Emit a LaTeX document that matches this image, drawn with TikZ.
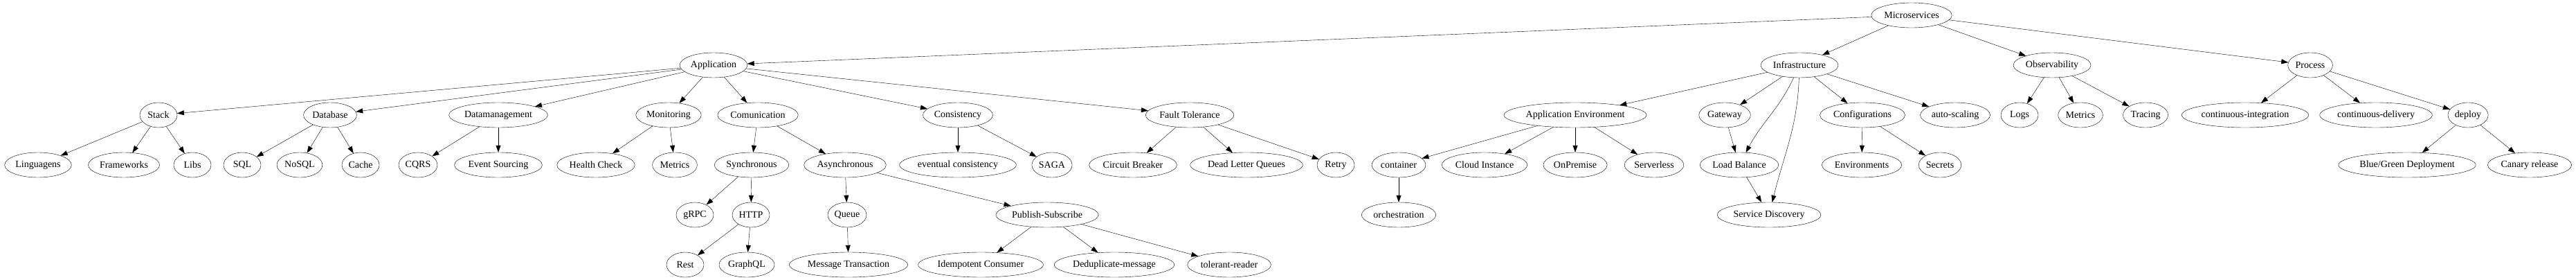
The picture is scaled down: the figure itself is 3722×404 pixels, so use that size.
\documentclass[tikz,border=0pt]{standalone}
\usepackage{fontspec}
\setmainfont{Liberation Serif}
\usetikzlibrary{arrows.meta, shapes.geometric}
\tikzset{
    ->, % every edge is directed
    >={Triangle[length=10pt,width=7pt]}, % filled heads
    line width=1pt,
    topic/.style={draw, ellipse, inner xsep=1.5pt, inner ysep=2pt, minimum height=36pt, minimum width=54pt, font=\fontsize{14}{16}\selectfont}, % every ellipse
}

\begin{document}
\begin{tikzpicture}[x=1pt, y=-1pt]
    \useasboundingbox (0,0) rectangle (3722,404);

    % root and first level
    \node[topic] (ms) at (2762,22) {Microservices};
    \node[topic] (app) at (1031,94) {Application};
    \node[topic] (infra) at (2600,94) {Infrastructure};
    \node[topic] (obs) at (2965,94) {Observability};
    \node[topic] (proc) at (3338,94) {Process};

    % second level
    \node[topic] (stack) at (229,166) {Stack};
    \node[topic] (db) at (477,166) {Database};
    \node[topic] (dm) at (720,166) {Datamanagement};
    \node[topic] (mon) at (966,166) {Monitoring};
    \node[topic] (com) at (1095,166) {Comunication};
    \node[topic] (cons) at (1384,166) {Consistency};
    \node[topic] (ft) at (1719,166) {Fault Tolerance};
    \node[topic] (appenv) at (2276,166) {Application Environment};
    \node[topic] (gw) at (2492,166) {Gateway};
    \node[topic] (conf) at (2691,166) {Configurations};
    \node[topic] (scal) at (2825,166) {auto-scaling};
    \node[topic] (logs) at (2918,166) {Logs};
    \node[topic] (omet) at (3006,166) {Metrics};
    \node[topic] (trac) at (3100,166) {Tracing};
    \node[topic] (ci) at (3244,166) {continuous-integration};
    \node[topic] (cd) at (3433,166) {continuous-delivery};
    \node[topic] (dep) at (3566,166) {deploy};

    % third level
    \node[topic] (ling) at (55,238) {Linguagens};
    \node[topic] (fw) at (179,238) {Frameworks};
    \node[topic] (libs) at (278,238) {Libs};
    \node[topic] (sql) at (350,238) {SQL};
    \node[topic] (nosql) at (433,238) {NoSQL};
    \node[topic] (cache) at (521,238) {Cache};
    \node[topic] (cqrs) at (604,238) {CQRS};
    \node[topic] (es) at (720,238) {Event Sourcing};
    \node[topic] (hc) at (861,238) {Health Check};
    \node[topic] (met) at (975,238) {Metrics};
    \node[topic] (sync) at (1086,238) {Synchronous};
    \node[topic] (async) at (1221,238) {Asynchronous};
    \node[topic] (ev) at (1384,238) {eventual consistency};
    \node[topic] (saga) at (1520,238) {SAGA};
    \node[topic] (cb) at (1637,238) {Circuit Breaker};
    \node[topic] (dlq) at (1801,238) {Dead Letter Queues};
    \node[topic] (retry) at (1930,238) {Retry};
    \node[topic] (cont) at (2021,238) {container};
    \node[topic] (cloud) at (2145,238) {Cloud Instance};
    \node[topic] (onp) at (2276,238) {OnPremise};
    \node[topic] (sless) at (2390,238) {Serverless};
    \node[topic] (lb) at (2513,238) {Load Balance};
    \node[topic] (envs) at (2690,238) {Environments};
    \node[topic] (sec) at (2803,238) {Secrets};
    \node[topic] (bg) at (3478,238) {Blue/Green Deployment};
    \node[topic] (can) at (3655,238) {Canary release};

    % fourth level
    \node[topic] (grpc) at (1004,310) {gRPC};
    \node[topic] (http) at (1085,310) {HTTP};
    \node[topic] (queue) at (1224,310) {Queue};
    \node[topic] (pubsub) at (1513,310) {Publish-Subscribe};
    \node[topic] (orch) at (2021,310) {orchestration};
    \node[topic] (sd) at (2556,310) {Service Discovery};

    % fifth level
    \node[topic] (rest) at (990,382) {Rest};
    \node[topic] (gql) at (1079,382) {GraphQL};
    \node[topic] (mt) at (1226,382) {Message Transaction};
    \node[topic] (ic) at (1417,382) {Idempotent Consumer};
    \node[topic] (dedup) at (1610,382) {Deduplicate-message};
    \node[topic] (tr) at (1776,382) {tolerant-reader};

    \path[->]
        (ms)
            edge (app)
            edge (infra)
            edge (obs)
            edge (proc)
        (app)
            edge (stack)
            edge (db)
            edge (dm)
            edge (mon)
            edge (com)
            edge (cons)
            edge (ft)
        (stack)
            edge (ling)
            edge (fw)
            edge (libs)
        (db)
            edge (sql)
            edge (nosql)
            edge (cache)
        (dm)
            edge (cqrs)
            edge (es)
        (mon)
            edge (hc)
            edge (met)
        (com)
            edge (sync)
            edge (async)
        (sync)
            edge (grpc)
            edge (http)
        (http)
            edge (rest)
            edge (gql)
        (async)
            edge (queue)
            edge (pubsub)
        (queue)
            edge (mt)
        (pubsub)
            edge (ic)
            edge (dedup)
            edge (tr)
        (cons)
            edge (ev)
            edge (saga)
        (ft)
            edge (cb)
            edge (dlq)
            edge (retry)
        (infra)
            edge (appenv)
            edge (gw)
            edge[out=-115, in=62] (lb)
            edge[out=-92, in=76] (sd)
            edge (conf)
            edge (scal)
        (appenv)
            edge (cont)
            edge (cloud)
            edge (onp)
            edge (sless)
        (cont)
            edge (orch)
        (gw)
            edge (lb)
        (lb)
            edge (sd)
        (conf)
            edge (envs)
            edge (sec)
        (obs)
            edge (logs)
            edge (omet)
            edge (trac)
        (proc)
            edge (ci)
            edge (cd)
            edge (dep)
        (dep)
            edge (bg)
            edge (can);
\end{tikzpicture}
\end{document}
